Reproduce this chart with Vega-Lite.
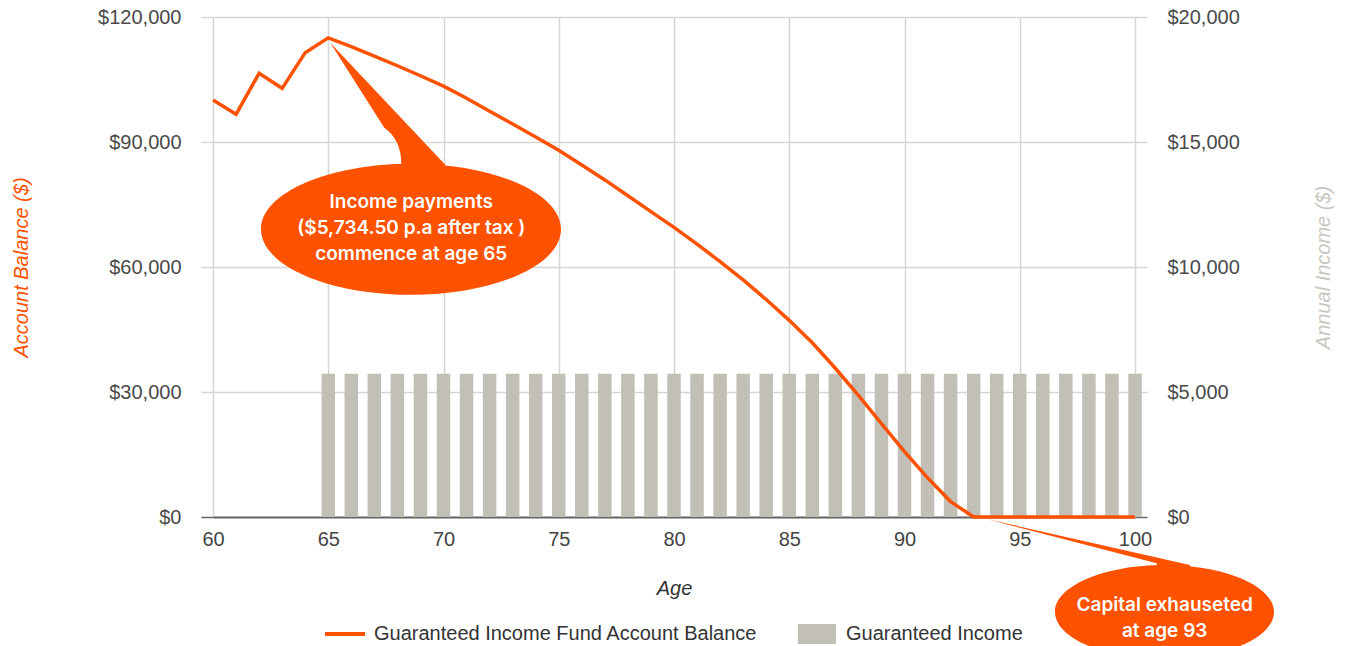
{
  "$schema": "https://vega.github.io/schema/vega-lite/v6.json",
  "width": 922,
  "height": 500,
  "autosize": {"type": "none"},
  "padding": {"left": 213, "top": 17, "right": 215, "bottom": 129},
  "background": "white",
  "config": {
    "view": {"stroke": null},
    "axis": {
      "labelFont": "Liberation Sans",
      "titleFont": "Liberation Sans",
      "labelFontSize": 20,
      "titleFontSize": 20,
      "labelColor": "#4a4a4a",
      "gridColor": "#d5d5d5",
      "gridWidth": 1.5,
      "titleFontWeight": "normal",
      "titleFontStyle": "italic"
    },
    "legend": {
      "labelFont": "Liberation Sans",
      "labelFontSize": 20,
      "labelColor": "#333333",
      "labelLimit": 600
    }
  },
  "datasets": {
    "rows": [
      {"age": 60, "balance": 100080, "income": 0},
      {"age": 61, "balance": 96640, "income": 0},
      {"age": 62, "balance": 106480, "income": 0},
      {"age": 63, "balance": 102880, "income": 0},
      {"age": 64, "balance": 111440, "income": 0},
      {"age": 65, "balance": 115000, "income": 5734.5},
      {"age": 66, "balance": 112900, "income": 5734.5},
      {"age": 67, "balance": 110600, "income": 5734.5},
      {"age": 68, "balance": 108300, "income": 5734.5},
      {"age": 69, "balance": 105900, "income": 5734.5},
      {"age": 70, "balance": 103400, "income": 5734.5},
      {"age": 71, "balance": 100500, "income": 5734.5},
      {"age": 72, "balance": 97400, "income": 5734.5},
      {"age": 73, "balance": 94300, "income": 5734.5},
      {"age": 74, "balance": 91200, "income": 5734.5},
      {"age": 75, "balance": 88000, "income": 5734.5},
      {"age": 76, "balance": 84500, "income": 5734.5},
      {"age": 77, "balance": 80900, "income": 5734.5},
      {"age": 78, "balance": 77100, "income": 5734.5},
      {"age": 79, "balance": 73300, "income": 5734.5},
      {"age": 80, "balance": 69500, "income": 5734.5},
      {"age": 81, "balance": 65500, "income": 5734.5},
      {"age": 82, "balance": 61300, "income": 5734.5},
      {"age": 83, "balance": 56900, "income": 5734.5},
      {"age": 84, "balance": 52200, "income": 5734.5},
      {"age": 85, "balance": 47200, "income": 5734.5},
      {"age": 86, "balance": 41800, "income": 5734.5},
      {"age": 87, "balance": 35700, "income": 5734.5},
      {"age": 88, "balance": 29200, "income": 5734.5},
      {"age": 89, "balance": 22400, "income": 5734.5},
      {"age": 90, "balance": 15700, "income": 5734.5},
      {"age": 91, "balance": 9400, "income": 5734.5},
      {"age": 92, "balance": 3700, "income": 5734.5},
      {"age": 93, "balance": 0, "income": 5734.5},
      {"age": 94, "balance": 0, "income": 5734.5},
      {"age": 95, "balance": 0, "income": 5734.5},
      {"age": 96, "balance": 0, "income": 5734.5},
      {"age": 97, "balance": 0, "income": 5734.5},
      {"age": 98, "balance": 0, "income": 5734.5},
      {"age": 99, "balance": 0, "income": 5734.5},
      {"age": 100, "balance": 0, "income": 5734.5}
    ],
    "notes": [
      {"id": "start", "age": 65, "balance": 115000, "label": "Income payments\n($5,734.50 p.a after tax )\ncommence at age 65"},
      {"id": "end", "age": 93, "balance": 0, "label": "Capital exhauseted\nat age 93"}
    ]
  },
  "layer": [
    {
      "data": {"name": "rows"},
      "transform": [{"filter": "datum.income > 0"}],
      "mark": {"type": "bar", "width": 13.5},
      "encoding": {
        "x": {
          "field": "age",
          "type": "quantitative",
          "title": "Age",
          "scale": {"domain": [60, 100], "nice": false, "zero": false, "padding": 0},
          "axis": {
            "values": [60, 65, 70, 75, 80, 85, 90, 95, 100],
            "grid": true,
            "ticks": false,
            "labelFlush": false,
            "domainColor": "#666666",
            "domainWidth": 2,
            "labelPadding": 12,
            "labelColor": "#444444",
            "titleColor": "#333333",
            "titlePadding": 29
          }
        },
        "y": {
          "field": "income",
          "type": "quantitative",
          "title": "Annual Income ($)",
          "scale": {"domain": [0, 20000]},
          "axis": {
            "orient": "right",
            "values": [0, 5000, 10000, 15000, 20000],
            "format": "$,.0f",
            "grid": false,
            "domain": false,
            "tickSize": 12,
            "tickWidth": 1.5,
            "tickColor": {"condition": {"test": "datum.value === 0", "value": "#666666"}, "value": "#d5d5d5"},
            "labelPadding": 20,
            "titleColor": "#c8c6c0",
            "titleAngle": 270,
            "titleBaseline": "top",
            "titlePadding": 74
          }
        },
        "color": {
          "datum": "Guaranteed Income",
          "type": "nominal",
          "scale": {
            "domain": ["Guaranteed Income Fund Account Balance", "Guaranteed Income"],
            "range": ["#ff5200", "#c2bfb6"]
          },
          "legend": {
            "title": null,
            "orient": "none",
            "legendX": 112,
            "legendY": 597,
            "direction": "horizontal",
            "padding": 0,
            "symbolSize": 1600,
            "labelOffset": 9,
            "columnPadding": 39,
            "encode": {
              "symbols": {
                "update": {
                  "shape": {"signal": "datum.value === 'Guaranteed Income' ? 'M-0.95,-0.5 L0.95,-0.5 L0.95,0.5 L-0.95,0.5 Z' : 'M-1,-0.1 L1,-0.1 L1,0.1 L-1,0.1 Z M-1,-0.5 L-1,0.5 L-1,-0.5 Z'"},
                  "fill": {"signal": "datum.value === 'Guaranteed Income' ? '#c2bfb6' : '#ff5200'"},
                  "stroke": {"value": "transparent"},
                  "strokeWidth": {"value": 0},
                  "opacity": {"value": 1}
                }
              }
            }
          }
        }
      }
    },
    {
      "layer": [
        {
          "data": {"name": "rows"},
          "mark": {"type": "line", "strokeWidth": 3.5},
          "encoding": {
            "x": {"field": "age", "type": "quantitative", "title": "Age"},
            "y": {
              "field": "balance",
              "type": "quantitative",
              "title": "Account Balance ($)",
              "scale": {"domain": [0, 120000]},
              "axis": {
                "orient": "left",
                "values": [0, 30000, 60000, 90000, 120000],
                "format": "$,.0f",
                "grid": true,
                "domain": false,
                "tickSize": 12,
                "tickWidth": 1.5,
                "tickColor": {"condition": {"test": "datum.value === 0", "value": "#666666"}, "value": "#d5d5d5"},
                "labelPadding": 20,
                "titleColor": "#ff5200",
                "titlePadding": 66
              }
            },
            "color": {"datum": "Guaranteed Income Fund Account Balance", "type": "nominal"}
          }
        },
        {
          "data": {"name": "notes"},
          "transform": [{"filter": "datum.id === 'start'"}],
          "mark": {
            "type": "point",
            "shape": "M0.02,0.05 L1.17,1.27 L1.12,1.4 L0.73,1.4 L0.73,1.26 Q0.73,1.02 0.56,0.9 Z M-0.6725,1.915 C-0.6725,1.5532 -0.001,1.26 0.8275,1.26 C1.656,1.26 2.3275,1.5532 2.3275,1.915 C2.3275,2.2768 1.656,2.57 0.8275,2.57 C-0.001,2.57 -0.6725,2.2768 -0.6725,1.915 Z",
            "size": 40000,
            "filled": true,
            "opacity": 1,
            "color": "#ff5200",
            "strokeWidth": 0
          },
          "encoding": {
            "x": {"field": "age", "type": "quantitative", "title": "Age"},
            "y": {"field": "balance", "type": "quantitative", "title": "Account Balance ($)"}
          }
        },
        {
          "data": {"name": "notes"},
          "transform": [{"filter": "datum.id === 'end'"}],
          "mark": {
            "type": "point",
            "shape": "M0.13,0.02 L2.163,0.48 L2.163,0.63 L1.83,0.63 L1.83,0.463 Z M0.8135,0.95 C0.8135,0.6904 1.3037,0.48 1.9085,0.48 C2.5133,0.48 3.0035,0.6904 3.0035,0.95 C3.0035,1.2096 2.5133,1.42 1.9085,1.42 C1.3037,1.42 0.8135,1.2096 0.8135,0.95 Z",
            "size": 40000,
            "filled": true,
            "opacity": 1,
            "color": "#ff5200",
            "strokeWidth": 0
          },
          "encoding": {
            "x": {"field": "age", "type": "quantitative", "title": "Age"},
            "y": {"field": "balance", "type": "quantitative", "title": "Account Balance ($)"}
          }
        },
        {
          "data": {"name": "notes"},
          "transform": [{"filter": "datum.id === 'start'"}],
          "mark": {
            "type": "text",
            "font": "Inter",
            "fontSize": 19,
            "fontWeight": 600,
            "color": "white",
            "lineBreak": "\n",
            "lineHeight": 26,
            "align": "center",
            "baseline": "middle",
            "dx": 83,
            "dy": 164.5
          },
          "encoding": {
            "x": {"field": "age", "type": "quantitative", "title": "Age"},
            "y": {"field": "balance", "type": "quantitative", "title": "Account Balance ($)"},
            "text": {"field": "label"}
          }
        },
        {
          "data": {"name": "notes"},
          "transform": [{"filter": "datum.id === 'end'"}],
          "mark": {
            "type": "text",
            "font": "Inter",
            "fontSize": 19,
            "fontWeight": 600,
            "color": "white",
            "lineBreak": "\n",
            "lineHeight": 26,
            "align": "center",
            "baseline": "middle",
            "dx": 191,
            "dy": 88
          },
          "encoding": {
            "x": {"field": "age", "type": "quantitative", "title": "Age"},
            "y": {"field": "balance", "type": "quantitative", "title": "Account Balance ($)"},
            "text": {"field": "label"}
          }
        }
      ]
    }
  ],
  "resolve": {"scale": {"y": "independent"}}
}
